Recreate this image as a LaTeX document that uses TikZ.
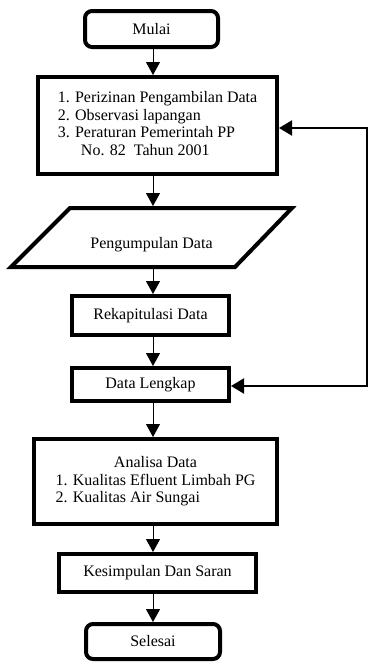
\documentclass[tikz,border=0pt]{standalone}
\usepackage{fontspec}
\setmainfont{Liberation Serif}
\usetikzlibrary{arrows.meta}
\begin{document}
\begin{tikzpicture}[x=1pt,y=-1pt,
  every node/.style={font=\fontsize{16}{17.5}\selectfont, inner sep=0pt},
  boxed/.style={draw=black, line width=4pt, fill=white, rectangle},
  termbox/.style={boxed, rounded corners=7pt},
  arr/.style={draw=black, line width=1pt, -{Triangle[length=13pt,width=14pt]}},
  fb/.style={draw=black, line width=2pt, {Triangle[length=13pt,width=15pt]}-{Triangle[length=13pt,width=15pt]}}
]
\useasboundingbox (0,0) rectangle (369,662);
\fill[white] (0,0) rectangle (369,662);

\coordinate (ax) at (153,0);

\node[termbox, minimum width=133pt, minimum height=36pt] (mulai) at (151.5,29) {\raisebox{-2pt}{Mulai}};

\node[boxed, minimum width=239pt, minimum height=97pt] (prep) at (157.5,125.5)
  {\begin{tabular}{@{}l@{}}
   1. Perizinan Pengambilan Data\\
   2. Observasi lapangan\\
   3. Peraturan Pemerintah PP\\
   \hspace*{1.45em}No. 82\ \ Tahun 2001
   \end{tabular}};

% parallelogram (input / output)
\draw[line width=4pt, line join=miter, fill=white] (70,208) -- (292,208) -- (235,267) -- (11,267) -- cycle;
\coordinate (paraN) at (153,206);
\coordinate (paraS) at (153,269);
\node (para) at (151.5,245) {Pengumpulan Data};

\node[boxed, minimum width=157pt, minimum height=39pt] (rekap) at (150.5,315.5) {Rekapitulasi Data};

\node[boxed, minimum width=157pt, minimum height=33pt] (lengkap) at (150.5,384.5) {Data Lengkap};

\node[boxed, minimum width=243pt, minimum height=85pt] (analisa) at (155.5,481.5)
  {\begin{tabular}{@{}l@{}}
   \multicolumn{1}{@{}c@{}}{Analisa Data}\\
   1. Kualitas Efluent Limbah PG\\
   2. Kualitas Air Sungai
   \end{tabular}};

\node[boxed, minimum width=197pt, minimum height=38pt] (simpul) at (157.5,573) {Kesimpulan Dan Saran};

\node[termbox, minimum width=134pt, minimum height=35pt] (selesai) at (153,641.5) {\raisebox{-3pt}{Selesai}};

% main flow
\draw[arr] (mulai.south -| ax) -- (prep.north -| ax);
\draw[arr] (prep.south -| ax) -- (paraN);
\draw[arr] (paraS) -- (rekap.north -| ax);
\draw[arr] (rekap.south -| ax) -- (lengkap.north -| ax);
\draw[arr] (lengkap.south -| ax) -- (analisa.north -| ax);
\draw[arr] (analisa.south -| ax) -- (simpul.north -| ax);
\draw[arr] (simpul.south -| ax) -- (selesai.north -| ax);

% feedback loop
\coordinate (fbT) at (367,128);
\coordinate (fbB) at (367,386);
\draw[fb] (prep.east |- fbT) -- (fbT) -- (fbB) -- (lengkap.east |- fbB);
\end{tikzpicture}
\end{document}
